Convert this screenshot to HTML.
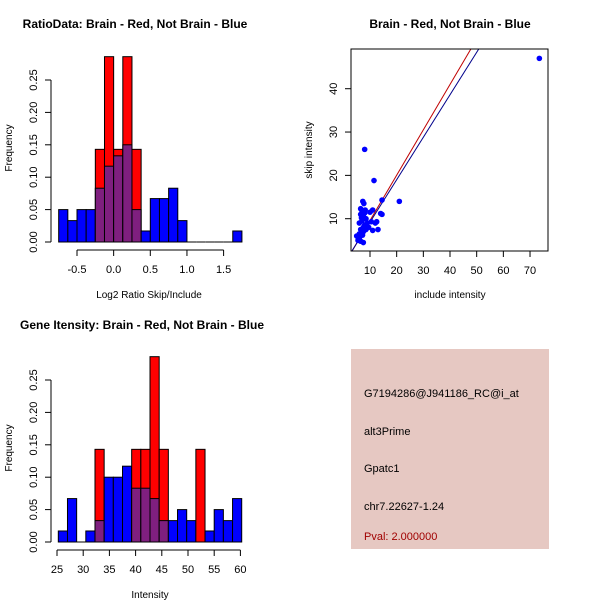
<!DOCTYPE html>
<html><head><meta charset="utf-8"><style>
body{margin:0;background:#fff}
svg{display:block;font-family:"Liberation Sans",sans-serif}
</style></head><body>
<svg id="s" width="600" height="600" viewBox="0 0 600 600">
<rect width="600" height="600" fill="#fff"/>
<text x="135" y="28" font-size="12" font-weight="bold" text-anchor="middle">RatioData: Brain - Red, Not Brain - Blue</text>
<text x="450" y="28" font-size="12" font-weight="bold" text-anchor="middle">Brain - Red, Not Brain - Blue</text>
<text x="142" y="329" font-size="12" font-weight="bold" text-anchor="middle">Gene Itensity: Brain - Red, Not Brain - Blue</text>
<text x="149" y="298" font-size="10" text-anchor="middle">Log2 Ratio Skip/Include</text>
<text x="150" y="598" font-size="10" text-anchor="middle">Intensity</text>
<text x="450" y="298" font-size="10" text-anchor="middle">include intensity</text>
<text transform="translate(12,148) rotate(-90)" font-size="10" text-anchor="middle">Frequency</text>
<text transform="translate(12,448) rotate(-90)" font-size="10" text-anchor="middle">Frequency</text>
<text transform="translate(312,150) rotate(-90)" font-size="10" text-anchor="middle">skip intensity</text>
<g>
<rect x="351" y="349" width="198" height="200" fill="#e6c8c2"/>
<text x="364" y="397" font-size="11">G7194286@J941186_RC@i_at</text>
<text x="364" y="435" font-size="11">alt3Prime</text>
<text x="364" y="472" font-size="11">Gpatc1</text>
<text x="364" y="510" font-size="11">chr7.22627-1.24</text>
<text x="364" y="540" font-size="11" fill="#a00000">Pval: 2.000000</text>
</g>
<g id="g1"></g><g id="g2"></g><g id="g3"></g>
</svg>
<script>
const ratioBlue=[0.05,0.033,0.05,0.05,0.083,0.117,0.133,0.15,0.05,0.017,0.067,0.067,0.083,0.033,0,0,0,0,0,0.017];
const ratioRed=[0,0,0,0,0.143,0.286,0.143,0.286,0.143,0,0,0,0,0,0,0,0,0,0,0];
const ratioXTicks=["-0.5","0.0","0.5","1.0","1.5"];
const ratioXTickVals=[-0.5,0,0.5,1,1.5];
const intBlue=[0.017,0.067,0,0.017,0.033,0.1,0.1,0.117,0.083,0.083,0.067,0.033,0.033,0.05,0.033,0,0.017,0.05,0.033,0.067];
const intRed=[0,0,0,0,0.143,0,0,0,0.143,0.143,0.286,0.143,0,0,0,0.143,0,0,0,0];
const intXTickVals=[25,30,35,40,45,50,55,60];
const freqTicks=["0.00","0.05","0.10","0.15","0.20","0.25"];
const freqTickVals=[0,0.05,0.1,0.15,0.2,0.25];
const scatterX=[73.5,8,11.5,21,14.5,7.3,7.7,14,14.5,12.5,13,11,11,10,6.5,7,8,6.5,7.5,8.5,6,7,9,8,7.5,6.5,8.5,7.5,6,5,6,5.5,6.5,7.5,9.5,10.5,12,6.8,8.2,7.2];
const scatterY=[47,26,18.8,14,14.3,14,13.5,11.2,11,9.3,7.5,7.3,12,11.5,12.3,11.8,11.3,11,10.5,10,9,9.5,9,8.5,8,7.5,7.5,7,6.5,6,5.5,5,4.8,4.5,8,9.3,9,10.2,12,6.2];
const scatterXTicks=[10,20,30,40,50,60,70];
const scatterYTicks=[10,20,30,40];
const redFit=[-0.9,1.047];
const blueFit=[-0.6,0.98];
const NS="http://www.w3.org/2000/svg";
function mk(p,t,a){const e=document.createElementNS(NS,t);for(const k in a)e.setAttribute(k,a[k]);p.appendChild(e);return e;}
function hist(g,blue,red,x0,bw,sx,sy,xTickVals,xTickLabels,yTop,axisY,yAxisX){
  for(let i=0;i<blue.length;i++){
    const xa=sx(x0+i*bw),xb=sx(x0+(i+1)*bw);
    const r=red[i],b=blue[i],m=Math.min(r,b);
    if(r>0){const e=mk(g,'rect',{x:xa,y:sy(r),width:xb-xa,height:sy(0)-sy(r),fill:'#ff0000',stroke:'#000','stroke-width':1});
      }
    if(b>r){const e=mk(g,'rect',{x:xa,y:sy(b),width:xb-xa,height:sy(0)-sy(b),fill:'#0000ff',stroke:'#000','stroke-width':1});
      }
    if(m>0){const e=mk(g,'rect',{x:xa,y:sy(m),width:xb-xa,height:sy(0)-sy(m),fill:'#7f1f7f',stroke:'#000','stroke-width':1});
      }
    if(r===0&&b===0){mk(g,'line',{x1:xa,x2:xb,y1:sy(0),y2:sy(0),stroke:'#000'});}
  }
  const xa=mk(g,'line',{x1:sx(xTickVals[0]),x2:sx(xTickVals[xTickVals.length-1]),y1:axisY,y2:axisY,stroke:'#000'});
  
  xTickVals.forEach((v,i)=>{mk(g,'line',{x1:sx(v),x2:sx(v),y1:axisY,y2:axisY+6,stroke:'#000'});
    const t=mk(g,'text',{x:sx(v),y:axisY+23,'font-size':11,'text-anchor':'middle'});t.textContent=xTickLabels[i];
    });
  const ya=mk(g,'line',{x1:yAxisX,x2:yAxisX,y1:sy(0),y2:sy(yTop),stroke:'#000'});
  
  freqTickVals.forEach((v,i)=>{mk(g,'line',{x1:yAxisX-6,x2:yAxisX,y1:sy(v),y2:sy(v),stroke:'#000'});
    const t=mk(g,'text',{transform:`translate(${yAxisX-14},${sy(v)}) rotate(-90)`,'font-size':11,'text-anchor':'middle'});t.textContent=freqTicks[i];
    });
}
// ratio histogram
{const g=document.getElementById('g1');
 const sx=v=>77+(v+0.5)*73.3, sy=v=>242-v*648;
 hist(g,ratioBlue,ratioRed,-0.75,0.125,sx,sy,ratioXTickVals,ratioXTicks,0.25,250,51);}
// intensity histogram
{const g=document.getElementById('g2');
 const sx=v=>57+(v-25)*5.24, sy=v=>542-v*648;
 hist(g,intBlue,intRed,25.25,1.75,sx,sy,intXTickVals,intXTickVals.map(String),0.25,550,51);}
// scatter
{const g=document.getElementById('g3');
 const sx=v=>370+(v-10)*2.667, sy=v=>218.7-(v-10)*4.333;
 const L=351,R=548,T=49,B=251;
 mk(g,'clipPath',{id:'cp'}).appendChild(document.createElementNS(NS,'rect'));
 const cr=g.querySelector('#cp rect');cr.setAttribute('x',L);cr.setAttribute('y',T);cr.setAttribute('width',R-L);cr.setAttribute('height',B-T);
 const xl=(L-370)/2.667+10,xr=(R-370)/2.667+10;
 [[redFit,'#c00000','red-fit-line'],[blueFit,'#00008b','blue-fit-line']].forEach(([f,c,n])=>{
   const e=mk(g,'line',{x1:sx(xl),y1:sy(f[0]+f[1]*xl),x2:sx(xr),y2:sy(f[0]+f[1]*xr),stroke:c,'clip-path':'url(#cp)'});
   });
 scatterX.forEach((x,i)=>{const e=mk(g,'circle',{cx:sx(x),cy:sy(scatterY[i]),r:2.8,fill:'#0000ff','clip-path':'url(#cp)'});
   });
 const box=mk(g,'rect',{x:L,y:T,width:R-L,height:B-T,fill:'none',stroke:'#000'});
 
 scatterXTicks.forEach(v=>{mk(g,'line',{x1:sx(v),x2:sx(v),y1:B,y2:B+6,stroke:'#000'});
   const t=mk(g,'text',{x:sx(v),y:B+23,'font-size':11,'text-anchor':'middle'});t.textContent=v;
   });
 scatterYTicks.forEach(v=>{mk(g,'line',{x1:L-6,x2:L,y1:sy(v),y2:sy(v),stroke:'#000'});
   const t=mk(g,'text',{transform:`translate(${L-14},${sy(v)}) rotate(-90)`,'font-size':11,'text-anchor':'middle'});t.textContent=v;
   });
}
</script>
</body></html>
